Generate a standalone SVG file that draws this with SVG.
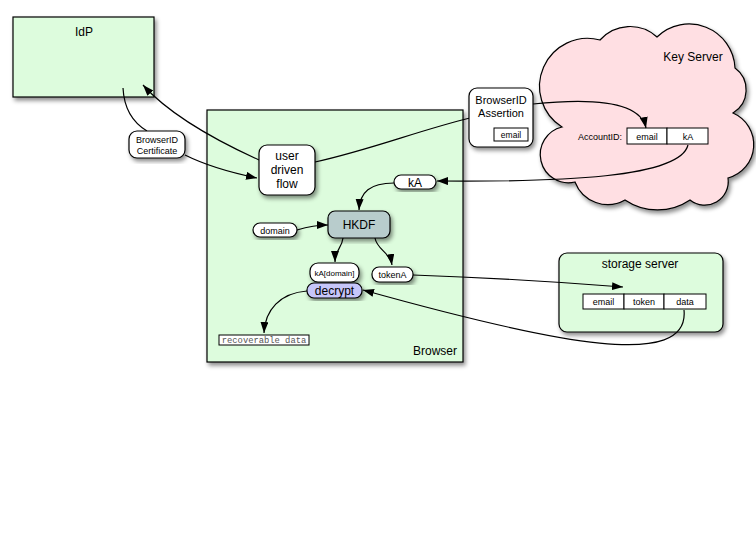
<svg xmlns="http://www.w3.org/2000/svg" width="756" height="553" viewBox="0 0 756 553">
<defs>
<filter id="sh" x="-20%" y="-20%" width="140%" height="140%"><feDropShadow dx="2" dy="3" stdDeviation="2" flood-color="#000" flood-opacity="0.45"/></filter>
<marker id="ah" markerUnits="userSpaceOnUse" markerWidth="12" markerHeight="10" refX="11" refY="4" orient="auto"><path d="M0,0 L11,4 L0,8 Z" fill="#000"/></marker>
</defs>
<style>
text{font-family:"Liberation Sans",Arial,sans-serif;fill:#000;text-anchor:middle}
.box{fill:#ddfcdd;stroke:#000;stroke-width:1.2}
.pill{fill:#fff;stroke:#000;stroke-width:1.2}
.cell{fill:#fff;stroke:#000;stroke-width:1}
.c{fill:none;stroke:#000;stroke-width:1.2}
.a{fill:none;stroke:#000;stroke-width:1.2;marker-end:url(#ah)}
</style>
<rect width="756" height="553" fill="#fff"/>
<g id="idp"><rect class="box" x="13" y="17" width="141" height="80" filter="url(#sh)"/><text x="84" y="36" font-size="12">IdP</text></g>
<g id="browser"><rect class="box" x="207" y="110" width="256" height="252" filter="url(#sh)"/><text x="457" y="355" font-size="12" style="text-anchor:end">Browser</text></g>
<g id="keyserver"><path d="M562,127 A48,48 0 0 1 600,40 A40,40 0 0 1 657,37 A46,46 0 0 1 735,68 A27,27 0 0 1 733,113 A34.5,34.5 0 0 1 728,178 A23.6,23.6 0 0 1 690,200 A58,58 0 0 1 625,200 A35,35 0 0 1 575,182 A28,28 0 0 1 562,127 Z" fill="#ffdfe3" stroke="#000" stroke-width="1.2" filter="url(#sh)"/><text x="693" y="61" font-size="12">Key Server</text>
<text x="622" y="140" font-size="9" style="text-anchor:end">AccountID:</text>
<rect class="cell" x="627" y="128" width="40" height="16"/><rect class="cell" x="667" y="128" width="41" height="16"/>
<text x="647" y="139.5" font-size="9">email</text><text x="688" y="139.5" font-size="9">kA</text></g>
<g id="storage"><rect class="box" x="559" y="253" width="164" height="79" rx="8" filter="url(#sh)"/><text x="640" y="268" font-size="12">storage server</text>
<rect class="cell" x="583" y="294" width="41" height="15"/><rect class="cell" x="624" y="294" width="40" height="15"/><rect class="cell" x="664" y="294" width="42" height="15"/>
<text x="603.5" y="305" font-size="9">email</text><text x="644" y="305" font-size="9">token</text><text x="685" y="305" font-size="9">data</text></g>
<g id="connectors">
<path class="c" d="M123,88 C124,108 132,122 147,131"/>
<path class="a" d="M185,155 C205,165 228,172 257,178"/>
<path class="a" d="M259,160 C215,140 170,115 143,85"/>
<path class="c" d="M315,162 C370,150 420,130 470,118"/>
<path class="a" d="M533,104 C590,98 640,100 646,128"/>
<path class="a" d="M688,145 C680,178 560,182 437,181"/>
<path class="a" d="M394,183 C370,183 360,192 359,210"/>
<path class="a" d="M297,230 C307,227 315,225 328,225"/>
<path class="a" d="M343,238 C342,248 335,250 335,262"/>
<path class="a" d="M375,238 C377,250 390,252 392,265"/>
<path class="a" d="M413,275 C500,278 560,282 623,287"/>
<path class="a" d="M684,310 C690,370 560,345 363,290"/>
<path class="a" d="M307,291 C280,293 265,310 264,333"/>
</g>
<g id="cert"><rect class="pill" x="129" y="131" width="56" height="27" rx="8" filter="url(#sh)"/><text x="157" y="143" font-size="9">BrowserID</text><text x="157" y="154" font-size="9">Certificate</text></g>
<g id="userflow"><rect class="pill" x="259" y="145" width="56" height="50" rx="8" filter="url(#sh)"/><text x="287" y="160" font-size="12">user</text><text x="287" y="174" font-size="12">driven</text><text x="287" y="188" font-size="12">flow</text></g>
<g id="assertion"><rect class="pill" x="469" y="88" width="64" height="59" rx="8" filter="url(#sh)"/><text x="501" y="104" font-size="11">BrowserID</text><text x="501" y="117" font-size="11">Assertion</text><rect class="cell" x="494" y="128" width="34" height="13"/><text x="511" y="138" font-size="8.5">email</text></g>
<g id="ka"><rect class="pill" x="394" y="175" width="42" height="14" rx="7" filter="url(#sh)"/><text x="415" y="186.5" font-size="12">kA</text></g>
<g id="hkdf"><rect x="328" y="211" width="62" height="27" rx="7" fill="#b8cccc" stroke="#000" stroke-width="1.2" filter="url(#sh)"/><text x="359" y="229" font-size="12">HKDF</text></g>
<g id="domain"><rect class="pill" x="253" y="223" width="44" height="14" rx="7" filter="url(#sh)"/><text x="275" y="233.5" font-size="9">domain</text></g>
<g id="kadomain"><rect class="pill" x="310" y="263" width="49" height="19" rx="8" filter="url(#sh)"/><text x="334.5" y="275.5" font-size="8">kA[domain]</text></g>
<g id="tokena"><rect class="pill" x="372" y="267" width="41" height="15" rx="7" filter="url(#sh)"/><text x="392.5" y="278" font-size="9">tokenA</text></g>
<g id="decrypt"><rect x="307" y="283" width="55" height="15" rx="7" fill="#c6c6fa" stroke="#000" stroke-width="1.2" filter="url(#sh)"/><text x="334.5" y="294.5" font-size="12">decrypt</text></g>
<g id="recoverable"><rect class="cell" x="219" y="335" width="90" height="10"/><text x="264" y="343.3" font-size="8.8" style="font-family:'Liberation Mono',monospace;fill:#555">recoverable data</text></g>
</svg>
